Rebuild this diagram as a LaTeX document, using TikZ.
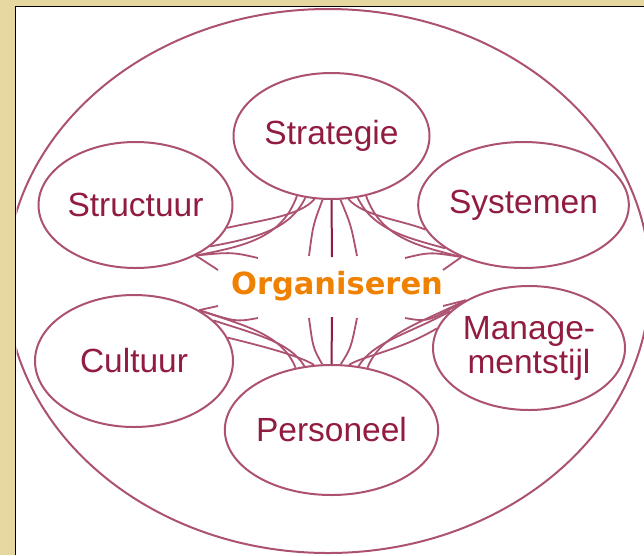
\documentclass[tikz,border=0pt]{standalone}
\usepackage{fontspec}
\setmainfont{Liberation Sans}
\newfontfamily\orgfont{DejaVu Sans}
\usetikzlibrary{shapes.geometric}
\definecolor{beige}{RGB}{230,216,160}
\definecolor{rim}{RGB}{172,82,112}
\definecolor{ink}{RGB}{145,28,64}
\definecolor{orgorange}{RGB}{240,128,0}
\tikzset{
  factor/.style={ellipse, draw=rim, line width=2pt, inner sep=0pt, text=ink,
    font=\fontsize{33.5}{35}\selectfont, align=center},
  web/.style={draw=rim, line width=1.8pt},
  spine/.style={draw=ink, line width=2pt}
}
\begin{document}
\begin{tikzpicture}[x=1pt,y=-1pt]
\useasboundingbox (0,0) rectangle (644,555);
\fill[beige] (0,0) rectangle (644,555);
\fill[white] (16,7) rectangle (644,555);
\draw[black, line width=1.5pt] (15.5,555) -- (15.5,6.5) -- (644,6.5);
\begin{scope}
\clip (16.5,7.5) rectangle (644,555);
\node[ellipse, draw=rim, line width=2pt, minimum width=644pt, minimum height=544pt, inner sep=0pt] (outer) at (328,281) {};
\end{scope}
\node[factor, minimum width=196pt, minimum height=126pt] (strat) at (331.5,136) {Strategie};
\node[factor, minimum width=194pt, minimum height=126pt] (syst) at (523.5,205) {Systemen};
\node[factor, minimum width=194pt, minimum height=126pt] (struc) at (135.5,205) {Structuur};
\node[factor, minimum width=198pt, minimum height=132pt] (cult) at (134,361) {Cultuur};
\node[factor, minimum width=196pt, minimum height=130pt] (pers) at (331.5,430) {Personeel};
\node[factor, minimum width=192pt, minimum height=124pt] (mgmt) at (529,348) {Manage-\\[-1pt]mentstijl};
\node[text=orgorange, font=\orgfont\bfseries\fontsize{30.5}{32}\selectfont] (org) at (337,286) {Organiseren};
% free ends of the threads near the centre
\coordinate (tc) at (332,257);
\coordinate (tl) at (309,256);
\coordinate (tr) at (357,256);
\coordinate (bcx) at (332,317);
\coordinate (bl) at (309,318);
\coordinate (br) at (357,318);
\coordinate (sl1) at (258,258);
\coordinate (sl2) at (218,270);
\coordinate (sr1) at (405,258);
\coordinate (sr2) at (443,270);
\coordinate (cl1) at (258,318);
\coordinate (cl2) at (218,306);
\coordinate (mr1) at (405,318);
\coordinate (mr2) at (443,306);
% spine lines
\draw[spine] (strat.south) -- (tc);
\draw[spine] (pers.north) -- (bcx);
% top: Strategie to centre
\draw[web] (strat.262) .. controls (313,225) .. (tl);
\draw[web] (strat.278) .. controls (351,225) .. (tr);
% top: Strategie to Structuur
\draw[web] (strat.255) .. controls (300,216) and (262,220) .. (struc.346);
\draw[web] (strat.247) .. controls (290,230) and (255,238) .. (struc.331);
\draw[web] (strat.240) .. controls (282,238) and (245,246) .. (struc.320);
% top: Strategie to Systemen
\draw[web] (strat.285) .. controls (363,216) and (401,220) .. (syst.194);
\draw[web] (strat.293) .. controls (373,230) and (408,238) .. (syst.209);
\draw[web] (strat.300) .. controls (381,238) and (418,246) .. (syst.220);
% Structuur and Systemen to centre
\draw[web] (struc.320) .. controls (232,252) .. (sl1);
\draw[web] (struc.320) -- (sl2);
\draw[web] (syst.220) .. controls (430,252) .. (sr1);
\draw[web] (syst.220) -- (sr2);
% bottom: Personeel to centre
\draw[web] (pers.98) .. controls (313,348) .. (bl);
\draw[web] (pers.82) .. controls (351,348) .. (br);
% bottom: Personeel to Cultuur
\draw[web] (pers.105) .. controls (300,356) and (262,346) .. (cult.14);
\draw[web] (pers.113) .. controls (290,342) and (255,334) .. (cult.27);
\draw[web] (pers.120) .. controls (282,334) and (245,326) .. (cult.38);
% bottom: Personeel to Managementstijl
\draw[web] (pers.75) .. controls (363,356) and (401,350) .. (mgmt.168);
\draw[web] (pers.67) .. controls (373,342) and (408,334) .. (mgmt.155);
\draw[web] (pers.60) .. controls (381,334) and (418,324) .. (mgmt.143);
% Cultuur and Managementstijl to centre
\draw[web] (cult.38) .. controls (236,322) .. (cl1);
\draw[web] (cult.38) -- (cl2);
\draw[web] (mgmt.143) .. controls (428,322) .. (mr1);
\draw[web] (mgmt.143) -- (mr2);
\end{tikzpicture}
\end{document}
